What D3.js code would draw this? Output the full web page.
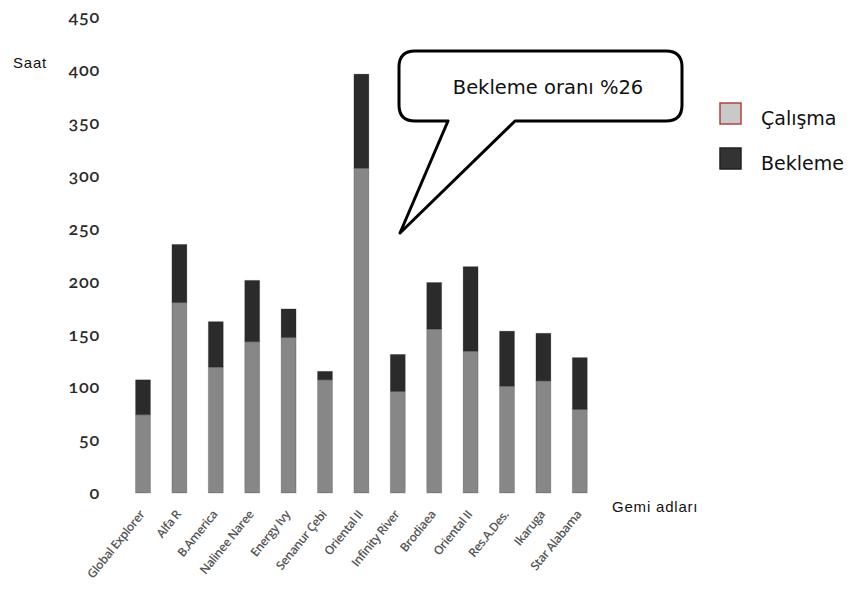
<!DOCTYPE html>
<html>
<head>
<meta charset="utf-8">
<script src="https://cdn.jsdelivr.net/npm/d3@7"></script>
<style>
    body { margin: 0; background: #fff; }
    svg { display: block; }
</style>
</head>
<body>
<div class="chart-container"></div>
<script>
const SVG_WIDTH = 853;
const SVG_HEIGHT = 590;

// ship names and hours
const ships = [
    "Global Explorer", "Alfa R", "B.America", "Nalinee Naree", "Energy Ivy",
    "Senanur Çebi", "Oriental II", "Infinity River", "Brodiaea", "Oriental II",
    "Res.A.Des.", "Ikaruga", "Star Alabama"
];
const calisma = [74, 180, 119, 143, 147, 107, 307, 96, 155, 134, 101, 106, 79];
const bekleme = [33, 55, 43, 58, 27, 8, 89, 35, 44, 80, 52, 45, 49];

const yTicks = [0, 50, 100, 150, 200, 250, 300, 350, 400, 450];

const seriesKeys = ["calisma", "bekleme"];
const seriesColours = { calisma: "#878787", bekleme: "#2b2b2b" };
const legendItems = [
    { label: "Çalışma", fill: "#c9c9c9", stroke: "#b0443f" },
    { label: "Bekleme", fill: "#333333", stroke: "#222222" }
];

const calloutText = "Bekleme oranı %26";

const rows = ships.map((name, i) => ({ key: i, name: name, calisma: calisma[i], bekleme: bekleme[i] }));

const svg = d3.select(".chart-container")
    .append("svg")
    .attr("width", SVG_WIDTH)
    .attr("height", SVG_HEIGHT);

const x = d3.scaleBand()
    .domain(rows.map(d => d.key))
    .range([124.8, 598])
    .paddingInner(0.59)
    .paddingOuter(0.295);

const y = d3.scaleLinear()
    .domain([0, 450])
    .range([493, 17]);

// y axis: labels only, no line
const yAxis = svg.append("g")
    .attr("transform", "translate(100,0)")
    .call(d3.axisLeft(y).tickValues(yTicks).tickSize(0).tickPadding(0));

yAxis.select(".domain").remove();
yAxis.selectAll("text")
    .attr("fill", "#2a2a2a")
    .style("font-family", "Lato, 'Open Sans', sans-serif")
    .style("font-variant-numeric", "oldstyle-nums")
    .style("font-weight", "600")
    .style("font-size", "18px")
    .style("letter-spacing", "0.8px");

svg.append("text")
    .attr("x", 13)
    .attr("y", 68)
    .attr("fill", "#111")
    .style("font-family", "'Liberation Sans', Arial, sans-serif")
    .style("font-size", "15px")
    .style("letter-spacing", "0.8px")
    .text("Saat");

// stacked bars
const stacked = d3.stack().keys(seriesKeys)(rows);

svg.append("g")
    .selectAll("g")
    .data(stacked)
    .join("g")
    .attr("fill", d => seriesColours[d.key])
    .selectAll("rect")
    .data(d => d)
    .join("rect")
    .attr("x", d => x(d.data.key))
    .attr("y", d => y(d[1]))
    .attr("width", x.bandwidth())
    .attr("height", d => y(d[0]) - y(d[1]))
    .attr("stroke", "rgba(0,0,0,0.18)")
    .attr("stroke-width", 1);

// x labels, rotated
const xLabels = svg.append("g");
rows.forEach(d => {
    xLabels.append("text")
        .attr("transform", `translate(${x(d.key) + x.bandwidth() / 2 - 1}, 512) rotate(-51)`)
        .attr("text-anchor", "end")
        .attr("dy", "0.35em")
        .attr("fill", "#555")
        .style("font-family", "'Open Sans', sans-serif")
        .style("font-size", "12px")
        .style("font-weight", "600")
        .style("letter-spacing", "-0.4px")
        .text(d.name);
});

svg.append("text")
    .attr("x", 612)
    .attr("y", 512)
    .attr("fill", "#111")
    .style("font-family", "'Liberation Sans', Arial, sans-serif")
    .style("font-size", "15px")
    .style("letter-spacing", "0.8px")
    .text("Gemi adları");

// callout bubble
const bx0 = 399, bx1 = 682, by0 = 51, by1 = 121, r = 16;
const bubblePath = d3.path();
bubblePath.moveTo(bx0 + r, by0);
bubblePath.lineTo(bx1 - r, by0);
bubblePath.quadraticCurveTo(bx1, by0, bx1, by0 + r);
bubblePath.lineTo(bx1, by1 - r);
bubblePath.quadraticCurveTo(bx1, by1, bx1 - r, by1);
bubblePath.lineTo(515, by1);
bubblePath.lineTo(400, 233);
bubblePath.lineTo(448, by1);
bubblePath.lineTo(bx0 + r, by1);
bubblePath.quadraticCurveTo(bx0, by1, bx0, by1 - r);
bubblePath.lineTo(bx0, by0 + r);
bubblePath.quadraticCurveTo(bx0, by0, bx0 + r, by0);
bubblePath.closePath();

svg.append("path")
    .attr("d", bubblePath.toString())
    .attr("fill", "#fff")
    .attr("stroke", "#000")
    .attr("stroke-width", 3)
    .attr("stroke-linejoin", "round");

svg.append("text")
    .attr("x", 548)
    .attr("y", 94)
    .attr("text-anchor", "middle")
    .attr("fill", "#111")
    .style("font-family", "'DejaVu Sans', sans-serif")
    .style("font-size", "19.5px")
    .text(calloutText);

// legend
const legend = svg.append("g").attr("transform", "translate(720,103)");
legendItems.forEach((item, i) => {
    const row = legend.append("g").attr("transform", `translate(0, ${i * 45})`);
    row.append("rect")
        .attr("x", 0)
        .attr("y", 0)
        .attr("width", 21)
        .attr("height", 21)
        .attr("fill", item.fill)
        .attr("stroke", item.stroke)
        .attr("stroke-width", 1.5);
    row.append("text")
        .attr("x", 41)
        .attr("y", 22)
        .attr("fill", "#111")
        .style("font-family", "'DejaVu Sans', sans-serif")
        .style("font-size", "19px")
        .text(item.label);
});
</script>
</body>
</html>
